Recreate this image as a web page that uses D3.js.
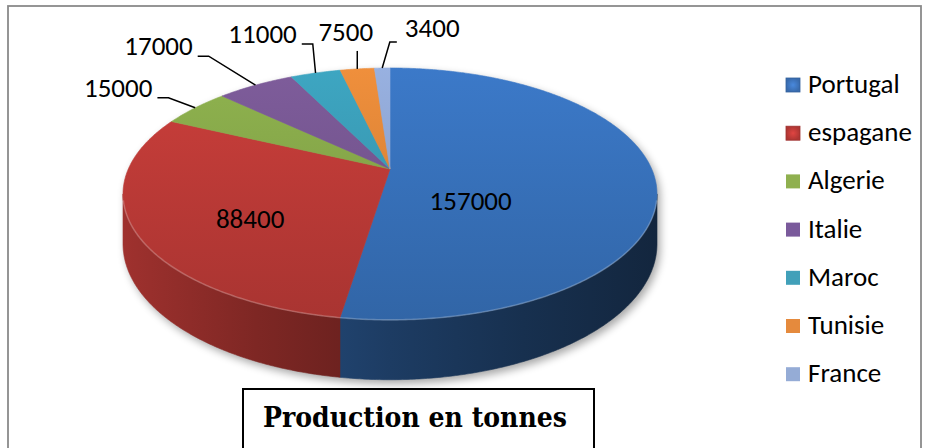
<!DOCTYPE html>
<html><head><meta charset="utf-8">
<script src="https://cdn.jsdelivr.net/npm/d3@7"></script>
<style>body{margin:0;background:#fff}svg{display:block}</style>
</head><body><svg id="c" width="926" height="448"></svg>
<script>
// ---- data ----
const categories = ["Portugal","espagane","Algerie","Italie","Maroc","Tunisie","France"];
const values = [157000, 88400, 15000, 17000, 11000, 7500, 3400];
const title = "Production en tonnes";

// ---- styles / layout ----
const baseColors = ["#3770b9","#bb3a36","#84a548","#74558f","#3999b2","#dc8437","#8ca3cf"];
const legendColors = ["#3f77c0","#c23c39","#8fb04f","#7a5a9b","#41a0b9","#e58a3d","#95acd6"];
// label placement: f = radial fraction (1 = rim, outside label), dx/dy = nudge to text centre/baseline
const labelPlace = [
  {f:0.30, dx:2,   dy:38},
  {f:0.60, dx:7,   dy:23},
  {f:1, dx:-77, dy:-11},
  {f:1, dx:-97, dy:-30},
  {f:1, dx:-53, dy:-30},
  {f:1, dx:-11.5, dy:-28},
  {f:1, dx:50,  dy:-31}
];
const FONT = "Carlito, 'Open Sans', sans-serif";
const FS = 27;

const svg = d3.select("#c");
const defs = svg.append("defs");

svg.append("rect").attr("x",0).attr("y",0).attr("width",926).attr("height",448).attr("fill","#fff");
svg.append("rect").attr("x",8).attr("y",6).attr("width",913).attr("height",460)
  .attr("fill","none").attr("stroke","#8a8a8a").attr("stroke-width",1.8);

// perspective pie geometry
const CX=390, CY=169, RX=261.7, RY=121, P=0.198, DEPTH=48;
function proj(theta, f=1, down=0){
  const X=f*Math.sin(theta), Z=f*Math.cos(theta);
  const w=1/(1+P*Z);
  return [CX+RX*X*w, CY-RY*Z*w+down*w];
}
function rimPts(a0,a1,f=1,down=0){
  const n=Math.max(2,Math.ceil(Math.abs(a1-a0)/(Math.PI/360)));
  return d3.range(n+1).map(i=>proj(a0+(a1-a0)*i/n,f,down));
}
const S0 = Math.acos(-P), S1 = 2*Math.PI - S0;
const line = d3.line();

const arcs = d3.pie().sort(null).value(d=>d).startAngle(0).endAngle(2*Math.PI)(values);

// shadow
const sh = defs.append("filter").attr("id","shadow").attr("x","-10%").attr("y","-10%").attr("width","120%").attr("height","130%");
sh.append("feGaussianBlur").attr("stdDeviation",4);
const silhouette = rimPts(S1, S0+2*Math.PI).concat(rimPts(S0, S1, 1, DEPTH));
svg.append("path").attr("d", line(silhouette)+"Z").attr("fill","#000").attr("opacity",0.35)
  .attr("transform","translate(3,4)").attr("filter","url(#shadow)");

// gradients
arcs.forEach((a,i)=>{
  const base=d3.rgb(baseColors[i]);
  const gt=defs.append("linearGradient").attr("id","top"+i).attr("gradientUnits","userSpaceOnUse")
    .attr("x1",0).attr("y1",CY-110).attr("x2",0).attr("y2",CY+155);
  gt.append("stop").attr("offset",0).attr("stop-color",base.brighter(0.25).formatHex());
  gt.append("stop").attr("offset",1).attr("stop-color",base.darker(0.3).formatHex());
  const gs=defs.append("linearGradient").attr("id","side"+i).attr("gradientUnits","userSpaceOnUse")
    .attr("x1",CX-RX*1.02).attr("y1",0).attr("x2",CX+RX*1.02).attr("y2",0);
  [0,0.25,0.5,0.75,1].forEach(t=>{
    gs.append("stop").attr("offset",t).attr("stop-color",base.darker(0.45+2.6*t).formatHex());
  });
});

// sides
const gSide = svg.append("g");
arcs.forEach((a,i)=>{
  const s=Math.max(a.startAngle,S0), e=Math.min(a.endAngle,S1);
  if(s<e){
    const pts=rimPts(s,e).concat(rimPts(e,s,1,DEPTH));
    gSide.append("path").attr("d",line(pts)+"Z").attr("fill","url(#side"+i+")")
      .attr("stroke","url(#side"+i+")").attr("stroke-width",0.6);
  }
});

// top faces
const gTop = svg.append("g");
arcs.forEach((a,i)=>{
  const pts=[proj(0,0)].concat(rimPts(a.startAngle,a.endAngle));
  gTop.append("path").attr("d",line(pts)+"Z").attr("fill","url(#top"+i+")")
    .attr("stroke","url(#top"+i+")").attr("stroke-width",0.6).attr("stroke-linejoin","round");
});
// rim highlight
svg.append("path").attr("d",line(rimPts(S0+0.05,S1-0.05))).attr("fill","none")
  .attr("stroke","#fff").attr("stroke-opacity",0.22).attr("stroke-width",1.6);

// labels
const gLab = svg.append("g").attr("font-family",FONT).attr("font-size",FS).attr("fill","#000");
arcs.forEach((a,i)=>{
  const mid=(a.startAngle+a.endAngle)/2, lp=labelPlace[i];
  const anchor=proj(mid, lp.f);
  const tx=anchor[0]+lp.dx, ty=anchor[1]+lp.dy;
  const t=gLab.append("text").attr("x",tx).attr("y",ty).attr("text-anchor","middle").text(d3.format("d")(values[i]));
  if(lp.f>=1){
    const bb=t.node().getBBox();
    let pts;
    if(Math.abs(lp.dx)<=25){
      pts=[anchor,[anchor[0],ty+10]];
    } else if(lp.dx<0){
      const end=[bb.x+bb.width+5, ty+1];
      pts=[anchor,[end[0]+11,end[1]],end];
    } else {
      const end=[bb.x-8, ty+5];
      pts=[anchor,[end[0]-7,end[1]],end];
    }
    svg.append("path").attr("d",line(pts)).attr("fill","none").attr("stroke","#000").attr("stroke-width",1.5);
  }
});

// legend
const gLeg = svg.append("g").attr("font-family",FONT).attr("font-size",FS);
categories.forEach((c,i)=>{
  const y=93+i*48.2;
  const col=d3.rgb(legendColors[i]);
  const gid="leg"+i;
  const lg=defs.append("radialGradient").attr("id",gid);
  lg.append("stop").attr("offset",0).attr("stop-color", i<2? col.brighter(0.4).formatHex(): col.formatHex());
  lg.append("stop").attr("offset",1).attr("stop-color", i<2? col.darker(0.3).formatHex(): col.formatHex());
  gLeg.append("rect").attr("x",786).attr("y",y-15).attr("width",14).attr("height",14)
    .attr("fill","url(#"+gid+")").attr("stroke", i<2? col.darker(0.6).formatHex():"none").attr("stroke-width",0.8);
  gLeg.append("text").attr("x",808).attr("y",y).attr("fill","#000").text(c);
});

// title box
svg.append("rect").attr("x",243).attr("y",389).attr("width",351).attr("height",80)
  .attr("fill","#fff").attr("stroke","#000").attr("stroke-width",2);
svg.append("text").attr("x",263).attr("y",427).attr("font-family","'DejaVu Serif', serif").attr("font-weight","bold")
  .attr("font-size",27).attr("textLength",304).attr("lengthAdjust","spacingAndGlyphs").attr("fill","#000").text(title);
</script>
</body></html>
